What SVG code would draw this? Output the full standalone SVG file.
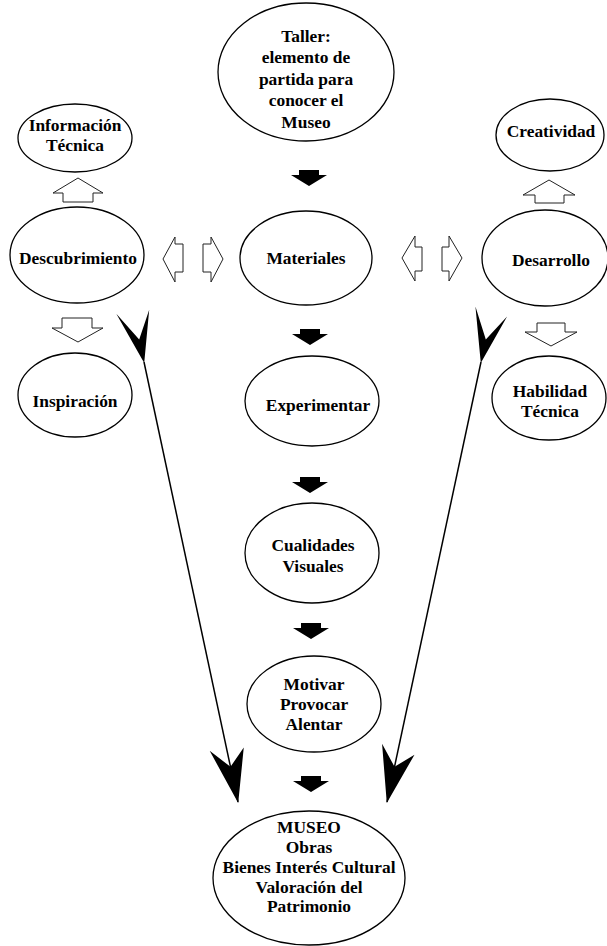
<svg xmlns="http://www.w3.org/2000/svg" width="607" height="946" viewBox="0 0 607 946">
<style>
.n ellipse{fill:#fff;stroke:#000;stroke-width:1.3}
text{font-family:"Liberation Serif","Times New Roman",serif;font-weight:bold;font-size:17.4px;text-anchor:middle;fill:#000}
.blk{fill:#000}
.hol{fill:#fff;stroke:#222;stroke-width:1}
.ln{stroke:#000;stroke-width:1.5;fill:none;marker-start:url(#ahs);marker-end:url(#ahe)}
</style>
<defs>
<marker id="ahs" viewBox="-56 -20 60 40" refX="0" refY="0" markerWidth="60" markerHeight="40" markerUnits="userSpaceOnUse" orient="auto">
<path d="M1,0 L-50,-16 L-23,0 L-53,17 Z" fill="#000"/>
</marker>
<marker id="ahe" viewBox="-60 -20 64 40" refX="0" refY="0" markerWidth="64" markerHeight="40" markerUnits="userSpaceOnUse" orient="auto">
<path d="M1,0 L-52,-17 L-36,0 L-56,17 Z" fill="#000"/>
</marker>
</defs>
<rect width="607" height="946" fill="#fff"/>

<g id="connectors">
<line class="ln" x1="144" y1="362" x2="238" y2="802"/>
<line class="ln" x1="481" y1="362" x2="387" y2="802"/>
<path class="blk" d="M299,170 h20 v5 h8 l-18,11 l-18,-11 h8 z"/>
<path class="blk" d="M300,329 h20 v5 h8 l-18,11 l-18,-11 h8 z"/>
<path class="blk" d="M300,477 h20 v5 h8 l-18,11 l-18,-11 h8 z"/>
<path class="blk" d="M301,623 h20 v5 h8 l-18,11 l-18,-11 h8 z"/>
<path class="blk" d="M301,776 h20 v5 h8 l-18,11 l-18,-11 h8 z"/>
<path class="hol" d="M78,178 L103,193 L93,193 L93,202 L63,202 L63,193 L53,193 Z"/>
<path class="hol" d="M549,180 L575,195 L564,195 L564,203 L535,203 L535,195 L523,195 Z"/>
<path class="hol" d="M62,318 L92,318 L92,328 L103,328 L78,342 L52,328 L62,328 Z"/>
<path class="hol" d="M537,323 L565,323 L565,332 L577,332 L551,346 L525,332 L537,332 Z"/>
<path class="hol" d="M163,259 L175,237 L175,244 L183,244 L183,272 L175,272 L175,282 Z"/>
<path class="hol" d="M223,259 L211,237 L211,244 L203,244 L203,272 L211,272 L211,282 Z"/>
<path class="hol" d="M402,258 L415,236 L415,247 L422,247 L422,271 L415,271 L415,281 Z"/>
<path class="hol" d="M462,258 L449,236 L449,247 L442,247 L442,271 L449,271 L449,281 Z"/>
</g>

<g id="taller" class="n">
<ellipse cx="306" cy="72" rx="88" ry="69"/>
<text x="306" y="42">Taller:</text>
<text x="306" y="63">elemento de</text>
<text x="306" y="85">partida para</text>
<text x="306" y="106">conocer el</text>
<text x="306" y="128">Museo</text>
</g>
<g id="informacion" class="n">
<ellipse cx="75" cy="138" rx="57" ry="34"/>
<text x="75" y="131">Información</text>
<text x="75" y="151">Técnica</text>
</g>
<g id="descubrimiento" class="n">
<ellipse cx="77" cy="255" rx="67" ry="48"/>
<text x="78" y="264">Descubrimiento</text>
</g>
<g id="inspiracion" class="n">
<ellipse cx="75" cy="395" rx="57" ry="42"/>
<text x="75" y="407">Inspiración</text>
</g>
<g id="materiales" class="n">
<ellipse cx="306" cy="258" rx="66" ry="47"/>
<text x="306" y="264">Materiales</text>
</g>
<g id="creatividad" class="n">
<ellipse cx="550" cy="135" rx="54" ry="36"/>
<text x="551" y="137">Creatividad</text>
</g>
<g id="desarrollo" class="n">
<ellipse cx="545" cy="258" rx="63" ry="48"/>
<text x="551" y="266">Desarrollo</text>
</g>
<g id="habilidad" class="n">
<ellipse cx="549" cy="398" rx="57" ry="42"/>
<text x="550" y="397">Habilidad</text>
<text x="550" y="417">Técnica</text>
</g>
<g id="experimentar" class="n">
<ellipse cx="312" cy="401" rx="67" ry="45"/>
<text x="318" y="411">Experimentar</text>
</g>
<g id="cualidades" class="n">
<ellipse cx="312" cy="553" rx="67" ry="50"/>
<text x="313" y="551">Cualidades</text>
<text x="313" y="572">Visuales</text>
</g>
<g id="motivar" class="n">
<ellipse cx="314" cy="704" rx="67" ry="48"/>
<text x="314" y="690">Motivar</text>
<text x="314" y="710">Provocar</text>
<text x="314" y="730">Alentar</text>
</g>
<g id="museo" class="n">
<ellipse cx="309" cy="878" rx="96" ry="67"/>
<text x="309" y="833">MUSEO</text>
<text x="309" y="853">Obras</text>
<text x="309" y="873">Bienes Interés Cultural</text>
<text x="309" y="893">Valoración del</text>
<text x="309" y="912">Patrimonio</text>
</g>
</svg>
